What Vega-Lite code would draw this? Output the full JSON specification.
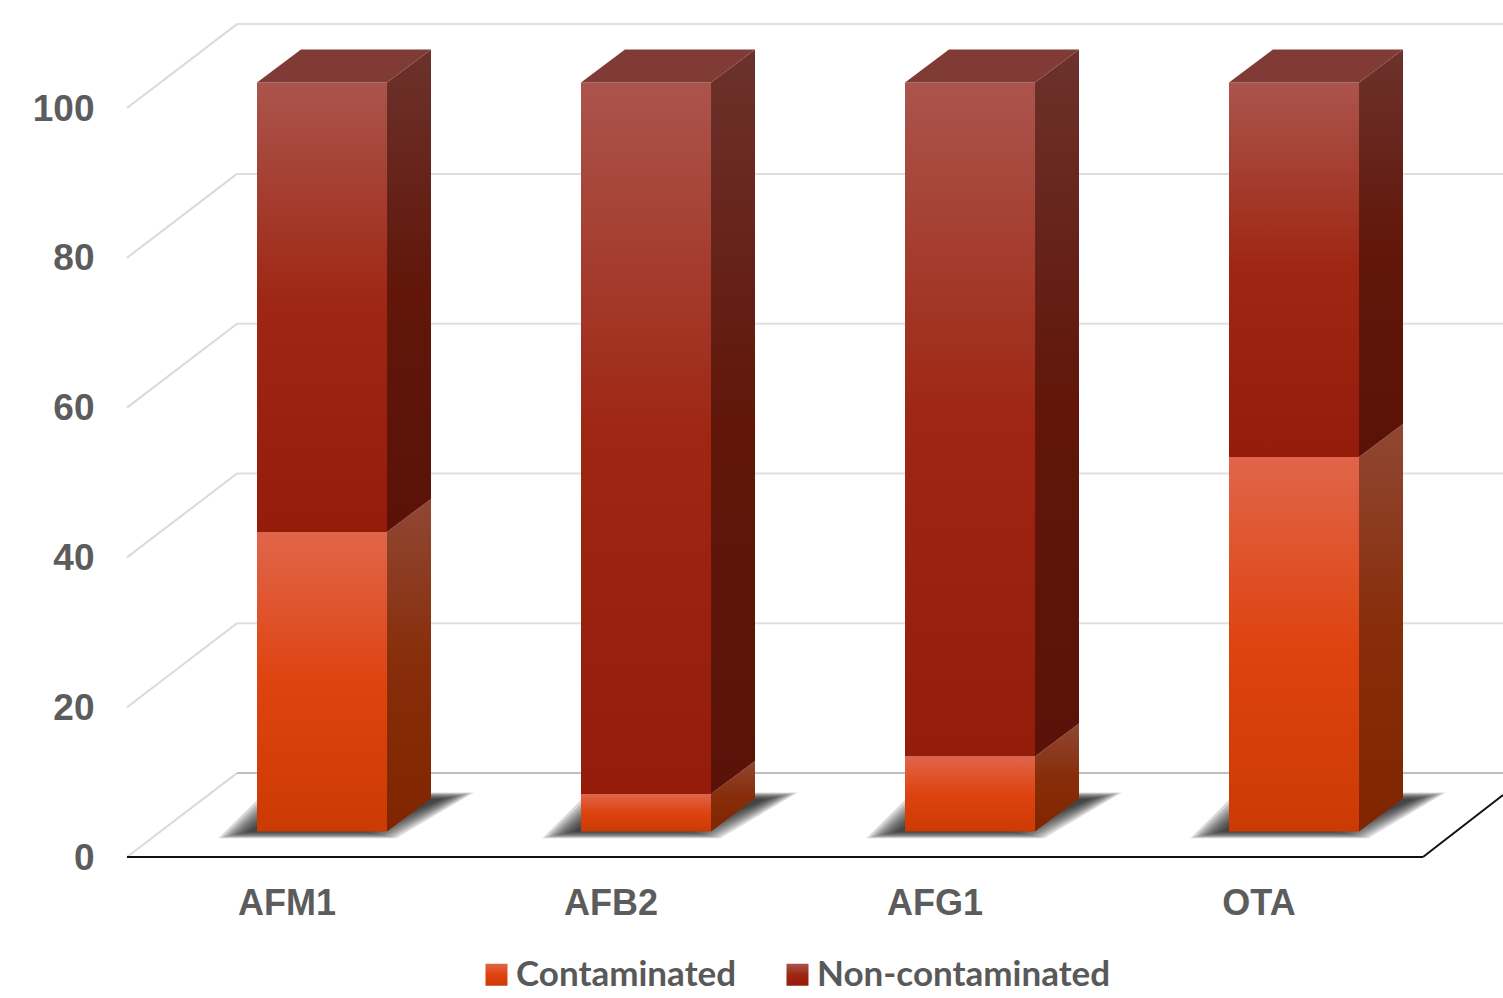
{
  "$schema": "https://vega.github.io/schema/vega-lite/v6.json",
  "width": 1296,
  "height": 749,
  "autosize": {"type": "none"},
  "padding": {"left": 127, "top": 108, "right": 80, "bottom": 141},
  "background": "white",
  "config": {"view": {"stroke": null}},
  "datasets": {
    "samples": [
      {"toxin": "AFM1", "status": "Contaminated", "percent": 40},
      {"toxin": "AFM1", "status": "Non-contaminated", "percent": 60},
      {"toxin": "AFB2", "status": "Contaminated", "percent": 5},
      {"toxin": "AFB2", "status": "Non-contaminated", "percent": 95},
      {"toxin": "AFG1", "status": "Contaminated", "percent": 10},
      {"toxin": "AFG1", "status": "Non-contaminated", "percent": 90},
      {"toxin": "OTA", "status": "Contaminated", "percent": 50},
      {"toxin": "OTA", "status": "Non-contaminated", "percent": 50}
    ],
    "ticks": [{"tick": 0}, {"tick": 20}, {"tick": 40}, {"tick": 60}, {"tick": 80}, {"tick": 100}],
    "toxins": [{"toxin": "AFM1"}, {"toxin": "AFB2"}, {"toxin": "AFG1"}, {"toxin": "OTA"}]
  },
  "layer": [
    {
      "data": {"name": "ticks"},
      "transform": [{"calculate": "datum.tick + 11.2", "as": "wall"}],
      "mark": {"type": "rule", "color": "#DFDFDF", "strokeWidth": 2},
      "encoding": {
        "x": {"datum": 0.3395, "type": "quantitative", "scale": {"domain": [0, 4]}, "axis": null},
        "x2": {"datum": 4.247},
        "y": {"field": "wall", "type": "quantitative", "scale": {"domain": [0, 100], "nice": false},
          "axis": {"values": [0, 20, 40, 60, 80, 100], "title": null, "domain": false, "ticks": false, "grid": false,
            "labelFont": "Liberation Sans", "labelFontWeight": "bold", "labelFontSize": 37, "labelColor": "#5C5C5C", "labelPadding": 33, "labelOffset": 1}}
      }
    },
    {
      "data": {"name": "ticks"},
      "transform": [{"calculate": "datum.tick + 11.2", "as": "wall"}],
      "mark": {"type": "rule", "color": "#DADADA", "strokeWidth": 2},
      "encoding": {
        "x": {"datum": 0, "type": "quantitative", "scale": {"domain": [0, 4]}, "axis": null},
        "x2": {"datum": 0.3395},
        "y": {"field": "tick", "type": "quantitative"},
        "y2": {"field": "wall"}
      }
    },
    {
      "data": {"values": [{"edge": "floor back"}]},
      "mark": {"type": "rule", "color": "#BDBDBD", "strokeWidth": 2},
      "encoding": {
        "x": {"datum": 0.3395, "type": "quantitative", "scale": {"domain": [0, 4]}, "axis": null},
        "x2": {"datum": 4.247},
        "y": {"datum": 11.2, "type": "quantitative"}
      }
    },
    {
      "data": {"values": [{"edge": "floor front"}]},
      "mark": {"type": "rule", "color": "#111111", "strokeWidth": 2},
      "encoding": {
        "x": {"datum": 0, "type": "quantitative", "scale": {"domain": [0, 4]}, "axis": null},
        "x2": {"datum": 4},
        "y": {"datum": 0, "type": "quantitative"}
      }
    },
    {
      "data": {"values": [{"edge": "floor right"}]},
      "mark": {"type": "rule", "color": "#111111", "strokeWidth": 2},
      "encoding": {
        "x": {"datum": 4, "type": "quantitative", "scale": {"domain": [0, 4]}, "axis": null},
        "x2": {"datum": 4.247},
        "y": {"datum": 0, "type": "quantitative"},
        "y2": {"datum": 8.28}
      }
    },
    {
      "data": {"name": "toxins"},
      "transform": [
        {"calculate": "indexof(['AFM1','AFB2','AFG1','OTA'], datum.toxin) + 0.5", "as": "slot"},
        {"calculate": "[0,1,2,3,4,5,6,7,8,9]", "as": "tier"},
        {"flatten": ["tier"]},
        {"calculate": "[0,1]", "as": "depth"},
        {"flatten": ["depth"]},
        {"calculate": "2.5 + datum.tier * 0.1 + datum.depth * (6.1 - datum.tier * 0.2)", "as": "floorY"},
        {"calculate": "datum.slot - 0.218 + datum.tier * 0.011 + datum.depth * 0.142", "as": "shadowLeft"},
        {"calculate": "datum.slot + 0.33 - datum.tier * 0.011 + datum.depth * 0.24", "as": "shadowRight"}
      ],
      "mark": {"type": "area", "orient": "horizontal", "color": "#222222", "fillOpacity": 0.17},
      "encoding": {
        "y": {"field": "floorY", "type": "quantitative"},
        "x": {"field": "shadowLeft", "type": "quantitative", "scale": {"domain": [0, 4]}, "axis": null},
        "x2": {"field": "shadowRight"},
        "detail": [{"field": "toxin"}, {"field": "tier"}]
      }
    },
    {
      "data": {"name": "samples"},
      "transform": [{"stack": "percent", "groupby": ["toxin"], "sort": [{"field": "status"}], "as": ["low", "high"]}],
      "mark": {"type": "bar", "width": 130, "xOffset": 33, "yOffset": -25.5, "y2Offset": -25.5},
      "encoding": {
        "x": {"field": "toxin", "type": "nominal", "sort": ["AFM1", "AFB2", "AFG1", "OTA"],
          "scale": {"paddingInner": 0, "paddingOuter": 0},
          "axis": {"title": null, "domain": false, "ticks": false, "grid": false, "labelAngle": 0,
            "labelFont": "Liberation Sans", "labelFontWeight": "bold", "labelFontSize": 36, "labelColor": "#5C5C5C", "labelPadding": 29, "labelOffset": -2}},
        "y": {"field": "low", "type": "quantitative"},
        "y2": {"field": "high"},
        "color": {"field": "status", "type": "nominal",
          "scale": {"domain": ["Contaminated", "Non-contaminated"],
            "range": [
              {"expr": "{gradient:'linear',x1:0,y1:0,x2:0,y2:1,stops:[{offset:0,color:'#E0654A'},{offset:0.5,color:'#DE4310'},{offset:1,color:'#CC3A04'}]}"},
              {"expr": "{gradient:'linear',x1:0,y1:0,x2:0,y2:1,stops:[{offset:0,color:'#AB544C'},{offset:0.5,color:'#9E2612'},{offset:1,color:'#951C0B'}]}"}
            ]},
          "legend": {"orient": "none", "direction": "horizontal", "title": null, "legendX": 352, "legendY": 849,
            "symbolType": "square", "symbolSize": 484, "symbolStrokeWidth": 0, "symbolOpacity": 1,
            "labelFont": "Lato", "labelFontWeight": "bold", "labelFontSize": 35, "labelColor": "#595959", "labelLimit": 400,
            "columnPadding": 43, "labelOffset": 2}}
      }
    },
    {
      "data": {"name": "samples"},
      "transform": [
        {"stack": "percent", "groupby": ["toxin"], "sort": [{"field": "status"}], "as": ["low", "high"]},
        {"filter": "datum.status === 'Contaminated'"},
        {"calculate": "indexof(['AFM1','AFB2','AFG1','OTA'], datum.toxin) + 0.5 + 0.3025", "as": "edge"},
        {"calculate": "[0,1]", "as": "depth"},
        {"flatten": ["depth"]},
        {"calculate": "datum.edge + datum.depth * 0.1358", "as": "sideX"},
        {"calculate": "datum.high + 3.405 + datum.depth * 4.406", "as": "sideTop"},
        {"calculate": "datum.low + 3.405 + datum.depth * 4.406", "as": "sideBottom"}
      ],
      "mark": {"type": "area",
        "color": {"gradient": "linear", "x1": 0, "y1": 0, "x2": 0, "y2": 1,
          "stops": [{"offset": 0, "color": "#904734"}, {"offset": 0.5, "color": "#872D09"}, {"offset": 1, "color": "#7F2600"}]}},
      "encoding": {
        "x": {"field": "sideX", "type": "quantitative", "scale": {"domain": [0, 4]}, "axis": null},
        "y": {"field": "sideTop", "type": "quantitative"},
        "y2": {"field": "sideBottom"},
        "detail": {"field": "toxin"}
      }
    },
    {
      "data": {"name": "samples"},
      "transform": [
        {"stack": "percent", "groupby": ["toxin"], "sort": [{"field": "status"}], "as": ["low", "high"]},
        {"filter": "datum.status === 'Non-contaminated'"},
        {"calculate": "indexof(['AFM1','AFB2','AFG1','OTA'], datum.toxin) + 0.5 + 0.3025", "as": "edge"},
        {"calculate": "[0,1]", "as": "depth"},
        {"flatten": ["depth"]},
        {"calculate": "datum.edge + datum.depth * 0.1358", "as": "sideX"},
        {"calculate": "datum.high + 3.405 + datum.depth * 4.406", "as": "sideTop"},
        {"calculate": "datum.low + 3.405 + datum.depth * 4.406", "as": "sideBottom"}
      ],
      "mark": {"type": "area",
        "color": {"gradient": "linear", "x1": 0, "y1": 0, "x2": 0, "y2": 1,
          "stops": [{"offset": 0, "color": "#6C322C"}, {"offset": 0.5, "color": "#611609"}, {"offset": 1, "color": "#5A1208"}]}},
      "encoding": {
        "x": {"field": "sideX", "type": "quantitative", "scale": {"domain": [0, 4]}, "axis": null},
        "y": {"field": "sideTop", "type": "quantitative"},
        "y2": {"field": "sideBottom"},
        "detail": {"field": "toxin"}
      }
    },
    {
      "data": {"name": "samples"},
      "transform": [
        {"stack": "percent", "groupby": ["toxin"], "sort": [{"field": "status"}], "as": ["low", "high"]},
        {"filter": "datum.status === 'Non-contaminated'"},
        {"calculate": "indexof(['AFM1','AFB2','AFG1','OTA'], datum.toxin) + 0.5", "as": "slot"},
        {"calculate": "[0,1]", "as": "depth"},
        {"flatten": ["depth"]},
        {"calculate": "datum.high + 3.405 + datum.depth * 4.406", "as": "capY"},
        {"calculate": "datum.slot - 0.0988 + datum.depth * 0.1358", "as": "capLeft"},
        {"calculate": "datum.slot + 0.3025 + datum.depth * 0.1358", "as": "capRight"}
      ],
      "mark": {"type": "area", "orient": "horizontal", "color": "#813B36"},
      "encoding": {
        "y": {"field": "capY", "type": "quantitative"},
        "x": {"field": "capLeft", "type": "quantitative", "scale": {"domain": [0, 4]}, "axis": null},
        "x2": {"field": "capRight"},
        "detail": {"field": "toxin"}
      }
    }
  ],
  "resolve": {"scale": {"x": "independent"}}
}
